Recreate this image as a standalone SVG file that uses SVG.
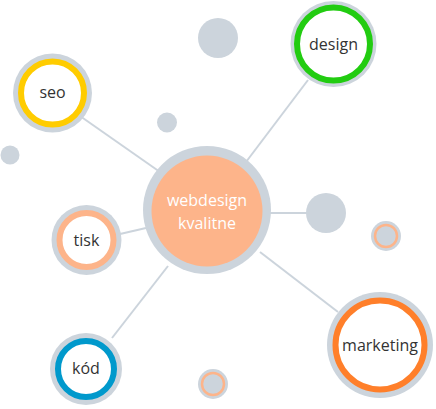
<svg xmlns="http://www.w3.org/2000/svg" width="436" height="409" viewBox="0 0 436 409">
<style>
.g{fill:#ccd4dc}
.w{fill:#fff;stroke-width:6}
.t{font-family:"Open Sans",Lato,sans-serif;font-size:16px;fill:#333;text-anchor:middle}
.ct{font-family:"Open Sans",Lato,sans-serif;font-size:16px;fill:#fff;text-anchor:middle}
.c line{stroke:#ccd4dc;stroke-width:2}
</style>
<rect width="436" height="409" fill="#fff"/>
<g class="c">
<line x1="80" y1="116" x2="160" y2="172"/>
<line x1="308" y1="80" x2="246" y2="162"/>
<line x1="120" y1="234" x2="146" y2="228"/>
<line x1="112" y1="338" x2="168" y2="266"/>
<line x1="338" y1="312" x2="260" y2="252"/>
<line x1="270" y1="213" x2="308" y2="213"/>
</g>
<g id="dots">
<circle class="g" cx="218" cy="38" r="20"/>
<circle class="g" cx="167" cy="122.5" r="10"/>
<circle class="g" cx="10" cy="155" r="9.5"/>
<circle class="g" cx="326" cy="213" r="20"/>
</g>
<g id="dot-orange-1">
<circle class="g" cx="386" cy="236" r="15"/>
<circle cx="386" cy="236" r="11" fill="none" stroke="#fdb48a" stroke-width="2.5"/>
</g>
<g id="dot-orange-2">
<circle class="g" cx="213" cy="384" r="15"/>
<circle cx="213" cy="384" r="11" fill="none" stroke="#fdb48a" stroke-width="2.5"/>
</g>
<g id="center">
<circle class="g" cx="207" cy="210" r="64"/>
<circle cx="207" cy="211" r="55.5" fill="#fdb48a"/>
<text class="ct" x="207" y="206">webdesign</text>
<text class="ct" x="207" y="229">kvalitne</text>
</g>
<g id="design">
<circle class="g" cx="333.5" cy="44" r="43"/>
<circle class="w" cx="333.5" cy="44" r="36.5" stroke="#22cc11"/>
<text class="t" x="333.5" y="50">design</text>
</g>
<g id="seo">
<circle class="g" cx="52.5" cy="93" r="39.5"/>
<circle class="w" cx="52.5" cy="93" r="31.5" stroke="#ffcc00"/>
<text class="t" x="52.5" y="98">seo</text>
</g>
<g id="tisk">
<circle class="g" cx="86.5" cy="240" r="35"/>
<circle class="w" cx="86.5" cy="240" r="27" stroke="#fdb48a"/>
<text class="t" x="86.5" y="246">tisk</text>
</g>
<g id="kod">
<circle class="g" cx="86" cy="369" r="36"/>
<circle class="w" cx="86" cy="369" r="28" stroke="#0099cc"/>
<text class="t" x="86" y="374">kód</text>
</g>
<g id="marketing">
<circle class="g" cx="380" cy="345" r="53"/>
<circle class="w" cx="380" cy="345" r="44.5" stroke="#ff7f2a"/>
<text class="t" x="380" y="351">marketing</text>
</g>
</svg>
